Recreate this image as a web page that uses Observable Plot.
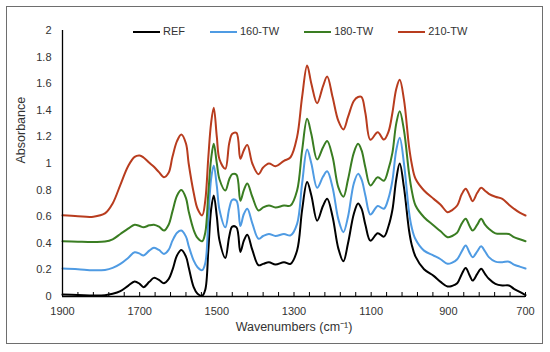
<!DOCTYPE html>
<html><head><meta charset="utf-8">
<script src="https://cdn.jsdelivr.net/npm/d3@7"></script>
<script src="https://cdn.jsdelivr.net/npm/@observablehq/plot@0.6"></script>
<style>
body{margin:0;background:#fff;font-family:"Liberation Sans",Arial,sans-serif;}
#wrap{position:relative;width:550px;height:352px;overflow:hidden;}
#frame{position:absolute;left:6px;top:6px;width:535px;height:336px;border:1px solid #6e6e6e;pointer-events:none;}
#legend{position:absolute;top:25px;left:133px;display:flex;gap:25px;font-size:11px;color:#333;line-height:13px;}
#legend .item{display:flex;align-items:center;}
#legend .sw{width:27px;height:2px;margin-right:3px;}
</style>
</head><body>
<div id="wrap"><div id="frame"></div><div id="legend"></div></div>
<script>
const series = ["REF", "160-TW", "180-TW", "210-TW"];
const colors = ["#000000", "#4f9be3", "#3a7d22", "#b83c1e"];

const wavenumbers = [1900,1860,1820,1790,1770,1750,1730,1713,1700,1690,1675,1663,1650,1637,1625,1615,1603,1592,1580,1573,1560,1550,1538,1530,1522,1515,1508,1500,1493,1478,1468,1460,1449,1439,1430,1421,1408,1392,1380,1365,1348,1326,1309,1292,1279,1266,1255,1240,1225,1214,1200,1185,1172,1160,1145,1134,1125,1115,1102,1083,1067,1055,1045,1035,1026,1015,1002,995,985,963,938,920,902,890,877,865,855,845,837,825,815,805,795,778,760,743,730,715,700];

const ref = [0.015,0.012,0.008,0.01,0.02,0.04,0.08,0.113,0.095,0.07,0.11,0.14,0.125,0.10,0.13,0.20,0.31,0.35,0.30,0.22,0.07,0.02,0.005,0.05,0.35,0.65,0.76,0.60,0.42,0.29,0.45,0.525,0.52,0.335,0.42,0.465,0.35,0.235,0.245,0.258,0.24,0.258,0.246,0.346,0.65,0.86,0.76,0.57,0.68,0.735,0.60,0.36,0.265,0.40,0.62,0.70,0.66,0.54,0.42,0.476,0.45,0.53,0.65,0.88,1.0,0.82,0.50,0.39,0.30,0.205,0.155,0.11,0.075,0.08,0.10,0.17,0.215,0.16,0.12,0.17,0.208,0.17,0.133,0.095,0.083,0.083,0.058,0.035,0.01];

const tw160 = [0.21,0.205,0.197,0.20,0.215,0.245,0.29,0.333,0.322,0.308,0.345,0.366,0.35,0.32,0.35,0.42,0.48,0.496,0.45,0.38,0.27,0.22,0.198,0.25,0.58,0.88,0.985,0.83,0.65,0.52,0.66,0.727,0.72,0.53,0.62,0.66,0.55,0.434,0.455,0.47,0.455,0.47,0.459,0.546,0.85,1.105,1.0,0.817,0.90,0.942,0.82,0.58,0.484,0.60,0.85,0.922,0.88,0.76,0.617,0.68,0.66,0.74,0.87,1.10,1.193,1.0,0.64,0.52,0.43,0.345,0.308,0.28,0.246,0.255,0.28,0.34,0.383,0.33,0.295,0.34,0.378,0.34,0.296,0.262,0.258,0.262,0.24,0.225,0.21];

const tw180 = [0.415,0.412,0.41,0.413,0.43,0.47,0.51,0.54,0.53,0.52,0.535,0.54,0.525,0.496,0.54,0.64,0.76,0.80,0.74,0.64,0.50,0.44,0.415,0.48,0.78,1.03,1.148,1.0,0.88,0.797,0.88,0.92,0.915,0.72,0.80,0.85,0.75,0.647,0.67,0.684,0.67,0.684,0.684,0.797,1.098,1.336,1.22,1.03,1.12,1.17,1.05,0.82,0.75,0.88,1.08,1.148,1.10,0.97,0.835,0.897,0.87,0.96,1.08,1.30,1.393,1.25,0.93,0.80,0.684,0.596,0.534,0.49,0.446,0.455,0.48,0.55,0.584,0.53,0.496,0.54,0.584,0.54,0.509,0.475,0.471,0.47,0.446,0.43,0.416];

const tw210 = [0.61,0.603,0.60,0.625,0.70,0.84,0.98,1.05,1.06,1.045,1.005,0.975,0.935,0.897,0.93,1.05,1.17,1.218,1.15,1.0,0.78,0.66,0.61,0.72,1.05,1.30,1.42,1.20,1.03,0.96,1.15,1.223,1.23,1.035,1.10,1.14,1.0,0.92,0.97,1.0,0.98,1.02,1.047,1.2,1.5,1.737,1.6,1.453,1.58,1.654,1.50,1.32,1.256,1.35,1.47,1.50,1.50,1.38,1.178,1.235,1.18,1.24,1.38,1.56,1.629,1.48,1.13,1.0,0.885,0.797,0.734,0.69,0.634,0.65,0.684,0.77,0.81,0.76,0.717,0.78,0.817,0.795,0.772,0.75,0.734,0.69,0.66,0.63,0.609];

const xLabelTicks = [1900,1700,1500,1300,1100,900,700];
const xMinorTicks = d3.range(700, 1901, 40);
const yTicks = [0,0.2,0.4,0.6,0.8,1,1.2,1.4,1.6,1.8,2];

const valueLists = [ref, tw160, tw180, tw210];
const rows = [];
series.forEach((s, i) => {
  wavenumbers.forEach((w, j) => rows.push({w, a: valueLists[i][j], s}));
});

const chart = Plot.plot({
  width: 550, height: 352,
  marginLeft: 62, marginRight: 25, marginTop: 30, marginBottom: 56,
  style: {fontFamily: "'Liberation Sans', Arial, sans-serif", fontSize: "11px", color: "#333", background: "transparent"},
  x: {domain: [1900, 700]},
  y: {domain: [0, 2]},
  color: {domain: series, range: colors},
  marks: [
    Plot.axisY({ticks: yTicks, tickSize: 0, tickPadding: 11, tickFormat: d3.format("~g"), label: null}),
    Plot.axisX({ticks: xLabelTicks, tickSize: 0, tickPadding: 11, tickFormat: d => String(d), label: null}),
    Plot.ruleX(xMinorTicks, {x: d => d, insetTop: 262, insetBottom: -1, stroke: "#000", strokeWidth: 1}),
    Plot.line(rows, {x: "w", y: "a", z: "s", stroke: "s", strokeWidth: 2, curve: "catmull-rom"}),
    Plot.ruleX([1900], {stroke: "#000", strokeWidth: 1.3}),
    Plot.ruleY([0], {stroke: "#000", strokeWidth: 1.3}),
    Plot.text(["Absorbance"], {frameAnchor: "left", rotate: -90, dx: -42, fontSize: 12.5, fill: "#333"}),
    Plot.text(["Wavenumbers (cm⁻¹)"], {frameAnchor: "bottom", dy: 34, fontSize: 12.5, fill: "#333"})
  ]
});
const wrap = document.getElementById("wrap");
wrap.insertBefore(chart, wrap.firstChild);

const legend = document.getElementById("legend");
series.forEach((s, i) => {
  const it = document.createElement("div");
  it.className = "item";
  const sw = document.createElement("span");
  sw.className = "sw";
  sw.style.background = colors[i];
  const tx = document.createElement("span");
  tx.textContent = s;
  it.appendChild(sw); it.appendChild(tx);
  legend.appendChild(it);
});
</script>
</body></html>
